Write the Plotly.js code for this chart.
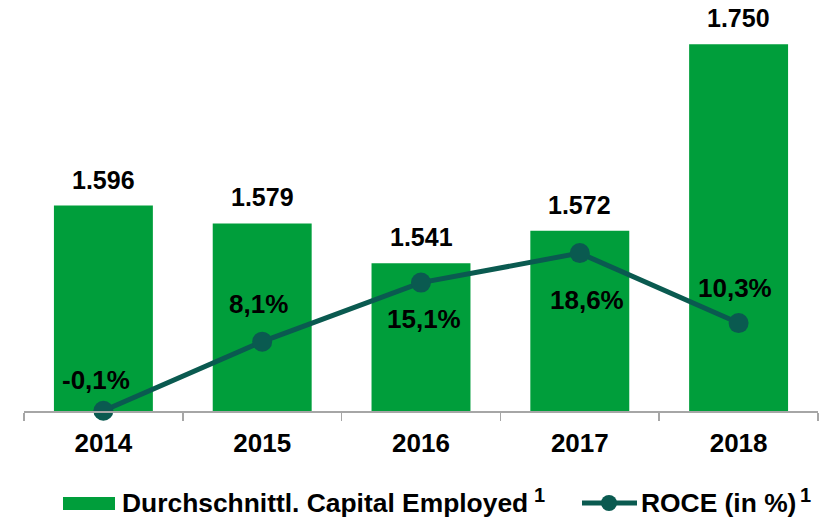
<!DOCTYPE html>
<html>
<head>
<meta charset="utf-8">
<script src="https://cdn.plot.ly/plotly-3.0.1.min.js"></script>
<style>html,body{margin:0;padding:0;background:#fff;}#chart{width:823px;height:519px;}</style>
</head>
<body>
<div id="chart"></div>
<script>
// ---- data ----
var years = ['2014', '2015', '2016', '2017', '2018'];
var capitalEmployed = [1596, 1579, 1541, 1572, 1750];
var roce = [-0.1, 8.1, 15.1, 18.6, 10.3];
var seriesNames = ['Durchschnittl. Capital Employed', 'ROCE (in %)'];
var footnoteMark = '1';

// ---- styling ----
var BAR_COLOR = '#009E3B';
var LINE_COLOR = '#0A5A50';
var FONT = 'Liberation Sans, Arial, sans-serif';
// label placement (pixel shifts relative to the data point)
var roceShift = [31, 38, -36, -47, 35];
var roceXShift = [-7, -4, 3, 7, -4];

function fmtCap(v) { return (v / 1000).toFixed(3); }
function fmtPct(v) { return v.toFixed(1).replace('.', ',') + '%'; }

var traces = [
  {
    type: 'bar', x: years, y: capitalEmployed, name: seriesNames[0],
    marker: { color: BAR_COLOR }, yaxis: 'y', hoverinfo: 'skip'
  },
  {
    type: 'scatter', mode: 'lines+markers', x: years, y: roce, name: seriesNames[1],
    yaxis: 'y2', line: { color: LINE_COLOR, width: 5 },
    marker: { color: LINE_COLOR, size: 20 }, cliponaxis: false, hoverinfo: 'skip'
  }
];

var annotations = [];
years.forEach(function (yr, i) {
  annotations.push({
    x: i, y: capitalEmployed[i], xref: 'x', yref: 'y', text: fmtCap(capitalEmployed[i]),
    showarrow: false, yanchor: 'middle', yshift: 26,
    font: { family: FONT, size: 25, color: '#000', weight: 'bold' }
  });
  annotations.push({
    x: i, y: roce[i], xref: 'x', yref: 'y2', text: fmtPct(roce[i]),
    showarrow: false, yanchor: 'middle', yshift: roceShift[i], xshift: roceXShift[i],
    font: { family: FONT, size: 26, color: '#000', weight: 'bold' }
  });
});

// manual legend (plot area: x 24..818 px, y 30..411 px)
function px(xp) { return (xp - 24) / 794; }
function py(yp) { return (411 - yp) / 381; }
var legY = 503;
annotations.push({
  x: px(120), y: py(legY), xref: 'paper', yref: 'paper', xanchor: 'left', yanchor: 'middle',
  text: seriesNames[0], showarrow: false,
  font: { family: FONT, size: 26.4, color: '#000', weight: 'bold' }
});
annotations.push({
  x: px(532), y: py(495), xref: 'paper', yref: 'paper', xanchor: 'left', yanchor: 'middle',
  text: footnoteMark, showarrow: false,
  font: { family: FONT, size: 20, color: '#000', weight: 'bold' }
});
annotations.push({
  x: px(639), y: py(legY), xref: 'paper', yref: 'paper', xanchor: 'left', yanchor: 'middle',
  text: seriesNames[1], showarrow: false,
  font: { family: FONT, size: 26.4, color: '#000', weight: 'bold' }
});
annotations.push({
  x: px(798), y: py(495), xref: 'paper', yref: 'paper', xanchor: 'left', yanchor: 'middle',
  text: footnoteMark, showarrow: false,
  font: { family: FONT, size: 20, color: '#000', weight: 'bold' }
});

var shapes = [
  { type: 'rect', xref: 'paper', yref: 'paper', x0: px(63), x1: px(115), y0: py(510), y1: py(497),
    fillcolor: BAR_COLOR, line: { width: 0 } },
  { type: 'line', xref: 'paper', yref: 'paper', x0: px(582), x1: px(637), y0: py(legY), y1: py(legY),
    line: { color: LINE_COLOR, width: 5 } },
  { type: 'circle', xref: 'paper', yref: 'paper', x0: px(601), x1: px(617), y0: py(legY + 8), y1: py(legY - 8),
    fillcolor: LINE_COLOR, line: { width: 0 } }
];

var hiddenAxis = { showgrid: false, zeroline: false, showline: false, showticklabels: false, ticks: '' };

var layout = {
  width: 823, height: 519,
  margin: { l: 24, r: 5, t: 30, b: 108 },
  paper_bgcolor: '#fff', plot_bgcolor: '#fff',
  showlegend: false,
  bargap: 0.377,
  font: { family: FONT, color: '#000' },
  xaxis: {
    type: 'category', range: [-0.5, 4.5], showgrid: false, zeroline: false,
    showline: true, linecolor: '#a6a6a6', linewidth: 1.5,
    ticks: 'outside', tickson: 'boundaries', ticklen: 8, tickcolor: '#a6a6a6', tickwidth: 1.5,
    ticklabelstandoff: 8,
    tickfont: { family: FONT, size: 26, color: '#000', weight: 'bold' }
  },
  yaxis: Object.assign({ range: [1400, 1763.5] }, hiddenAxis),
  yaxis2: Object.assign({ range: [-0.13, 45.07], overlaying: 'y', side: 'right' }, hiddenAxis),
  annotations: annotations,
  shapes: shapes
};

Plotly.newPlot('chart', traces, layout, { displayModeBar: false, staticPlot: true });
</script>
</body>
</html>
